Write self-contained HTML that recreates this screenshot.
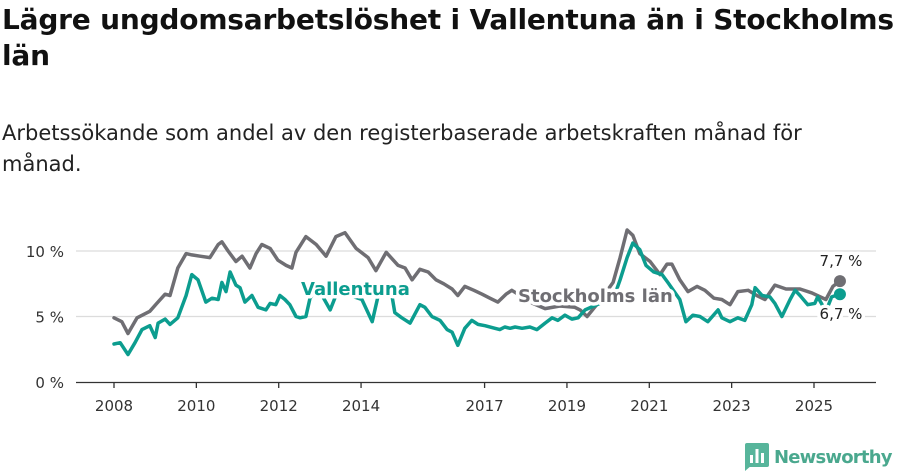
<!DOCTYPE html>
<html><head><meta charset="utf-8"><style>
body{margin:0;width:900px;height:474px;background:#fff;font-family:"Liberation Sans","DejaVu Sans",sans-serif;overflow:hidden;position:relative}
h1{position:absolute;left:2px;top:2px;margin:0;font-size:28px;line-height:36px;font-weight:bold;color:#111;width:895px;font-family:"DejaVu Sans",sans-serif;letter-spacing:-0.2px}
p{position:absolute;left:2px;top:118px;margin:0;font-size:21px;line-height:31px;color:#222;width:880px;font-family:"DejaVu Sans",sans-serif;letter-spacing:0px}
svg{position:absolute;left:0;top:0}
</style></head><body>
<h1>Lägre ungdomsarbetslöshet i Vallentuna än i Stockholms län</h1>
<p>Arbetssökande som andel av den registerbaserade arbetskraften månad för månad.</p>
<svg id="chart" width="900" height="474"></svg>
<script>
const yTicks=[0,5,10];
const yTickLabels=["0 %","5 %","10 %"];
const xTicks=[2008,2010,2012,2014,2017,2019,2021,2023,2025];
const stockholmYears=[2008.00,2008.19,2008.34,2008.56,2008.87,2009.04,2009.24,2009.36,2009.55,2009.75,2009.89,2010.09,2010.33,2010.53,2010.62,2010.77,2010.96,2011.11,2011.30,2011.45,2011.59,2011.79,2011.98,2012.18,2012.32,2012.42,2012.66,2012.91,2013.15,2013.39,2013.61,2013.88,2014.17,2014.36,2014.61,2014.90,2015.07,2015.24,2015.43,2015.63,2015.82,2016.01,2016.21,2016.35,2016.52,2016.74,2016.94,2017.13,2017.32,2017.52,2017.66,2018.17,2018.47,2018.83,2019.19,2019.32,2019.49,2019.80,2020.12,2020.29,2020.46,2020.60,2020.77,2021.02,2021.26,2021.43,2021.55,2021.74,2021.94,2022.16,2022.35,2022.57,2022.76,2022.96,2023.15,2023.40,2023.61,2023.81,2024.05,2024.32,2024.66,2024.95,2025.29,2025.46,2025.63];
const stockholmValues=[4.9,4.6,3.7,4.9,5.4,6.0,6.7,6.6,8.7,9.8,9.7,9.6,9.5,10.5,10.7,10.0,9.2,9.6,8.7,9.8,10.5,10.2,9.3,8.9,8.7,9.9,11.1,10.5,9.6,11.1,11.4,10.2,9.5,8.5,9.9,8.9,8.7,7.8,8.6,8.4,7.8,7.5,7.1,6.6,7.3,7.0,6.7,6.4,6.1,6.7,7.0,6.0,5.6,5.8,5.7,5.5,5.0,6.2,7.6,9.5,11.6,11.2,9.8,9.2,8.2,9.0,9.0,7.8,6.9,7.3,7.0,6.4,6.3,5.9,6.9,7.0,6.6,6.3,7.4,7.1,7.1,6.8,6.3,7.3,7.7];
const vallentunaYears=[2008.00,2008.15,2008.34,2008.51,2008.68,2008.87,2009.00,2009.07,2009.24,2009.36,2009.55,2009.75,2009.89,2010.04,2010.23,2010.38,2010.53,2010.62,2010.72,2010.82,2010.96,2011.06,2011.18,2011.35,2011.50,2011.69,2011.79,2011.93,2012.03,2012.15,2012.27,2012.42,2012.52,2012.66,2012.76,2012.91,2013.00,2013.25,2013.39,2013.73,2014.02,2014.27,2014.41,2014.75,2014.82,2014.99,2015.19,2015.43,2015.55,2015.72,2015.92,2016.09,2016.21,2016.35,2016.52,2016.69,2016.84,2017.01,2017.25,2017.37,2017.49,2017.62,2017.74,2017.91,2018.10,2018.27,2018.47,2018.64,2018.78,2018.95,2019.12,2019.27,2019.44,2019.80,2020.12,2020.29,2020.46,2020.60,2020.77,2020.92,2021.11,2021.31,2021.45,2021.74,2021.89,2022.06,2022.23,2022.42,2022.67,2022.76,2022.96,2023.15,2023.32,2023.49,2023.57,2023.74,2023.93,2024.05,2024.22,2024.42,2024.54,2024.66,2024.85,2025.02,2025.09,2025.29,2025.43,2025.63];
const vallentunaValues=[2.9,3.0,2.1,3.0,4.0,4.3,3.4,4.5,4.8,4.4,4.9,6.6,8.2,7.8,6.1,6.4,6.3,7.6,6.9,8.4,7.4,7.2,6.1,6.6,5.7,5.5,6.0,5.9,6.6,6.3,5.9,5.0,4.9,5.0,6.4,7.0,6.9,5.5,6.6,6.6,6.3,4.6,6.5,6.6,5.3,4.9,4.5,5.9,5.7,5.0,4.7,4.0,3.8,2.8,4.1,4.7,4.4,4.3,4.1,4.0,4.2,4.1,4.2,4.1,4.2,4.0,4.5,4.9,4.7,5.1,4.8,4.9,5.5,6.0,6.3,7.8,9.5,10.6,10.1,8.9,8.4,8.2,7.6,6.3,4.6,5.1,5.0,4.6,5.5,4.9,4.6,4.9,4.7,5.9,7.2,6.6,6.5,6.0,5.0,6.3,7.0,6.6,5.9,6.0,6.5,5.4,6.5,6.7];

const NS="http://www.w3.org/2000/svg";
const svg=document.getElementById('chart');
const x=y=>114+(y-2008)*(814-114)/17;
const yv=v=>382-v*13.1;
function mk(tag,attrs,parent){const e=document.createElementNS(NS,tag);for(const k in attrs)e.setAttribute(k,attrs[k]);(parent||svg).appendChild(e);return e;}

yTicks.forEach((t,i)=>{
  if(t>0){const g=mk('line',{x1:76,x2:876,y1:yv(t),y2:yv(t),stroke:'#dcdcdc','stroke-width':1.3});
  
  }
  const l=mk('text',{x:64,y:yv(t)+6,'text-anchor':'end','font-size':15,fill:'#333','font-family':'DejaVu Sans, sans-serif'});
  l.textContent=yTickLabels[i];
  
  
});
const ax=mk('line',{x1:76,x2:876,y1:382.5,y2:382.5,stroke:'#333','stroke-width':1.3});


xTicks.forEach(t=>{
  const tk=mk('line',{x1:x(t),x2:x(t),y1:382,y2:388,stroke:'#333','stroke-width':1.3});
  
  
  const l=mk('text',{x:x(t),y:411,'text-anchor':'middle','font-size':15,fill:'#333','font-family':'DejaVu Sans, sans-serif'});
  l.textContent=t;
  
  
});
function path(xs,vs,color,name){
  const d=xs.map((t,i)=>(i?'L':'M')+x(t).toFixed(1)+','+yv(vs[i]).toFixed(1)).join('');
  const p=mk('path',{d:d,fill:'none',stroke:color,'stroke-width':3.5,'stroke-linejoin':'round','stroke-linecap':'round'});
  
  
}
path(stockholmYears,stockholmValues,'#6f6e73','stockholm-line');
path(vallentunaYears,vallentunaValues,'#0c9d8f','vallentuna-line');
function lbl(txt,xx,yy,color,size,weight,name,anchor){
  const t=mk('text',{x:xx,y:yy,fill:color,'font-size':size,'font-weight':weight,'font-family':'DejaVu Sans, sans-serif',stroke:'#fff','stroke-width':7,'paint-order':'stroke','stroke-linejoin':'round','text-anchor':anchor||'start'});
  t.textContent=txt;
  
  
}
lbl('Vallentuna',301,295,'#0c9d8f',18,'bold','vallentuna-label');
lbl('Stockholms län',518,302,'#6f6e73',18,'bold','stockholm-label');
const ls=stockholmValues.length-1, lv=vallentunaValues.length-1;
const d1=mk('circle',{cx:x(stockholmYears[ls]),cy:yv(stockholmValues[ls]),r:6,fill:'#6f6e73'});


const d2=mk('circle',{cx:x(vallentunaYears[lv]),cy:yv(vallentunaValues[lv]),r:6,fill:'#0c9d8f'});


lbl(String(stockholmValues[ls]).replace('.',',')+' %',841,266,'#222',15,'normal','stockholm-end-value','middle');
lbl(String(vallentunaValues[lv]).replace('.',',')+' %',841,319,'#222',15,'normal','vallentuna-end-value','middle');
</script>
<div style="position:absolute;left:745px;top:443px;display:flex;align-items:center">
<svg width="24" height="28" viewBox="0 0 24 28" style="position:static"><rect x="0" y="0" width="24" height="24" rx="2" fill="#57b59b"/><path d="M0 22 L0 28 L7 22Z" fill="#57b59b"/><rect x="5" y="12" width="3" height="8" fill="#fff"/><rect x="10.5" y="6" width="3" height="14" fill="#fff"/><rect x="16" y="10" width="3" height="10" fill="#fff"/></svg>
<span style="margin-left:5px;font-size:18px;font-weight:bold;color:#4aa88e;font-family:'DejaVu Sans',sans-serif;letter-spacing:-0.8px">Newsworthy</span>
</div>
</body></html>
